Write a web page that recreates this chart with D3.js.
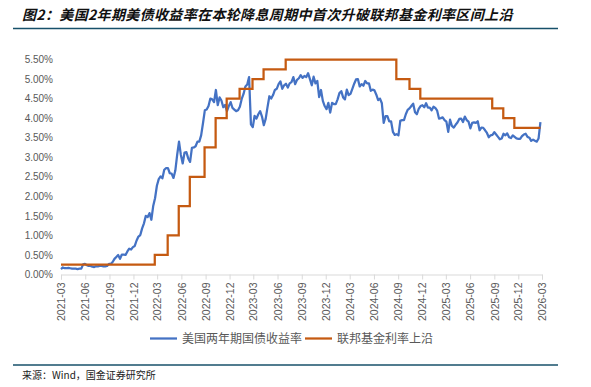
<!DOCTYPE html>
<html>
<head>
<meta charset="utf-8">
<script src="https://cdn.jsdelivr.net/npm/d3@7"></script>
<style>
  body { margin: 0; background: #fff; }
  svg { display: block; }
</style>
</head>
<body>
<svg id="chart" width="591" height="387"></svg>
<script>
// title / legend / source
const titleText = "图2：美国2年期美债收益率在本轮降息周期中首次升破联邦基金利率区间上沿";
const seriesNames = ["美国两年期国债收益率", "联邦基金利率上沿"];
const sourceText = "来源：Wind，国金证券研究所";

// x axis: quarterly labels 2021-03 .. 2026-03
const axisStart = "2021-03-26";
const tickCount = 21;
const yTicks = [0, 0.5, 1, 1.5, 2, 2.5, 3, 3.5, 4, 4.5, 5, 5.5];

// 2Y treasury yield, weekly (Fridays) from 2021-03-26
const yieldStart = "2021-03-26";
const yield2021 = [0.14, 0.18, 0.16, 0.16, 0.17, 0.16, 0.15, 0.15, 0.15, 0.14, 0.15, 0.15, 0.26, 0.27,
  0.24, 0.22, 0.22, 0.20, 0.19, 0.21, 0.21, 0.22, 0.22, 0.21, 0.21, 0.22, 0.27, 0.27, 0.32, 0.40, 0.45,
  0.50, 0.40, 0.51, 0.51, 0.50, 0.59, 0.66, 0.64, 0.70, 0.73];
const yield2022 = [0.87, 0.97, 1.01, 1.18, 1.31, 1.50, 1.47, 1.57, 1.40, 1.75, 1.95, 2.27,
  2.44, 2.51, 2.46, 2.68, 2.72, 2.72, 2.59, 2.58, 2.47, 2.66, 3.06, 3.40, 3.06,
  2.84, 3.12, 3.13, 2.97, 2.88, 3.24, 3.25, 3.28, 3.40, 3.40, 3.56, 3.87, 4.20, 4.22,
  4.31, 4.50, 4.48, 4.41, 4.72, 4.33, 4.53, 4.45, 4.28, 4.34, 4.18, 4.31, 4.41];
const yield2023 = [4.26, 4.22, 4.18, 4.20, 4.29, 4.49, 4.62, 4.81, 4.86, 5.05, 3.84, 3.77, 4.06,
  3.99, 4.10, 4.18, 4.04, 3.82, 3.98, 4.28, 4.56, 4.50, 4.59, 4.72, 4.75, 4.87,
  4.94, 4.75, 4.84, 4.88, 4.78, 4.89, 4.92, 5.05, 4.87, 4.98, 5.02, 5.10, 5.03,
  5.08, 5.05, 5.15, 5.00, 4.84, 5.06, 4.89, 4.95, 4.54, 4.72, 4.44, 4.31, 4.23];
const yield2024 = [4.39, 4.14, 4.39, 4.36, 4.36, 4.48, 4.64, 4.69, 4.53, 4.48, 4.73, 4.59, 4.62,
  4.75, 4.88, 4.99, 5.00, 4.81, 4.87, 4.83, 4.95, 4.89, 4.89, 4.70, 4.73, 4.71,
  4.60, 4.46, 4.50, 4.38, 3.88, 4.05, 4.05, 3.92, 3.92, 3.65, 3.57, 3.59, 3.56,
  3.93, 3.95, 3.95, 4.10, 4.21, 4.25, 4.31, 4.37, 4.15, 4.10, 4.24, 4.31, 4.33];
const yield2025 = [4.28, 4.38, 4.27, 4.27, 4.20, 4.29, 4.26, 4.19, 3.99, 4.00, 4.02, 3.95, 3.91,
  3.65, 3.96, 3.80, 3.76, 3.83, 3.89, 3.98, 3.99, 3.90, 4.04, 3.95, 3.91, 3.74,
  3.88, 3.89, 3.88, 3.92, 3.69, 3.76, 3.75, 3.69, 3.62, 3.51, 3.56, 3.57, 3.64,
  3.58, 3.52, 3.46, 3.48, 3.60, 3.56, 3.61, 3.51, 3.49, 3.56, 3.52, 3.48, 3.47];
const yield2026 = [3.47, 3.54, 3.58, 3.60, 3.52, 3.50, 3.42, 3.45, 3.42, 3.40, 3.48, 3.90];

// fed funds target upper bound (step changes)
const fedDates = ["2021-03-26", "2022-03-17", "2022-05-05", "2022-06-16", "2022-07-28", "2022-09-22",
  "2022-11-03", "2022-12-15", "2023-02-02", "2023-03-23", "2023-05-04", "2023-07-27", "2024-09-19",
  "2024-11-08", "2024-12-19", "2025-09-18", "2025-10-30", "2025-12-11", "2026-03-20"];
const fedRates = [0.25, 0.50, 1.00, 1.75, 2.50, 3.25, 4.00, 4.50, 4.75, 5.00, 5.25, 5.50, 5.00,
  4.75, 4.50, 4.25, 4.00, 3.75, 3.75];

const parse = d3.utcParse("%Y-%m-%d");
const yieldValues = [].concat(yield2021, yield2022, yield2023, yield2024, yield2025, yield2026);
const y0 = parse(yieldStart);
const yieldData = yieldValues.map((v, i) => ({ date: d3.utcDay.offset(y0, 7 * i), value: v }));
const fedData = fedDates.map((d, i) => ({ date: parse(d), value: fedRates[i] }));

const start = parse(axisStart);
const tickDates = d3.range(tickCount).map(i => d3.utcMonth.offset(start, 3 * i));

const svg = d3.select("#chart");
const cjk = "'Noto Sans CJK SC', 'Noto Sans', sans-serif";
const latin = "'Liberation Sans', Arial, sans-serif";

svg.append("rect").attr("width", 591).attr("height", 387).attr("fill", "#fff");

// title + rule
svg.append("text")
    .attr("x", 22).attr("y", 20)
    .attr("font-family", cjk)
    .attr("font-size", 14)
    .attr("font-weight", "bold")
    .attr("font-style", "italic")
    .attr("letter-spacing", 0.35)
    .attr("fill", "#111")
    .text(titleText);

svg.append("line")
    .attr("x1", 13).attr("x2", 558).attr("y1", 28.5).attr("y2", 28.5)
    .attr("stroke", "#17506a").attr("stroke-width", 1.5);

// scales
const x = d3.scaleUtc()
    .domain([start, tickDates[tickDates.length - 1]])
    .range([61, 542]);

const y = d3.scaleLinear()
    .domain([0, 5.5])
    .range([274.5, 59.5]);

// y axis (labels only)
const yAxis = svg.append("g")
    .attr("transform", "translate(56,0)")
    .call(d3.axisLeft(y).tickValues(yTicks).tickSize(0).tickPadding(3)
        .tickFormat(d => d.toFixed(2) + "%"));
yAxis.select(".domain").remove();
yAxis.selectAll("text")
    .attr("font-family", latin).attr("font-size", 10).attr("fill", "#595959");

// x axis
const xAxis = svg.append("g")
    .attr("transform", "translate(0,274.5)")
    .call(d3.axisBottom(x).tickValues(tickDates).tickSize(5)
        .tickFormat(d3.utcFormat("%Y-%m")));
xAxis.select(".domain").attr("stroke", "#d9d9d9");
xAxis.selectAll(".tick line").attr("stroke", "#d9d9d9");
xAxis.selectAll("text")
    .attr("font-family", latin).attr("font-size", 10.5).attr("fill", "#595959")
    .attr("transform", "rotate(-90)")
    .attr("x", -8).attr("y", 0).attr("dy", "0.35em")
    .style("text-anchor", "end");

// lines
const yieldLine = d3.line()
    .x(d => x(d.date))
    .y(d => y(d.value));

const fedLine = d3.line()
    .curve(d3.curveStepAfter)
    .x(d => x(d.date))
    .y(d => y(d.value));

svg.append("path")
    .datum(yieldData)
    .attr("d", yieldLine)
    .attr("fill", "none")
    .attr("stroke", "#4472c4")
    .attr("stroke-width", 2.25)
    .attr("stroke-linejoin", "round");

svg.append("path")
    .datum(fedData)
    .attr("d", fedLine)
    .attr("fill", "none")
    .attr("stroke", "#c55a11")
    .attr("stroke-width", 2.25);

// legend
const colors = ["#4472c4", "#c55a11"];
const legendX = [150, 305];
const legend = svg.append("g").attr("transform", "translate(0,338.5)");
seriesNames.forEach((name, i) => {
    legend.append("line")
        .attr("x1", legendX[i]).attr("x2", legendX[i] + 27)
        .attr("stroke", colors[i]).attr("stroke-width", 2.25);
    legend.append("text")
        .attr("x", legendX[i] + 32).attr("dy", "0.36em")
        .attr("font-family", cjk).attr("font-size", 12).attr("fill", "#595959")
        .text(name);
});

// bottom rule + source
svg.append("line")
    .attr("x1", 13).attr("x2", 558).attr("y1", 365).attr("y2", 365)
    .attr("stroke", "#17506a").attr("stroke-width", 1.5);

svg.append("text")
    .attr("x", 22).attr("y", 379)
    .attr("font-family", cjk).attr("font-size", 10).attr("fill", "#222")
    .text(sourceText);
</script>
</body>
</html>
